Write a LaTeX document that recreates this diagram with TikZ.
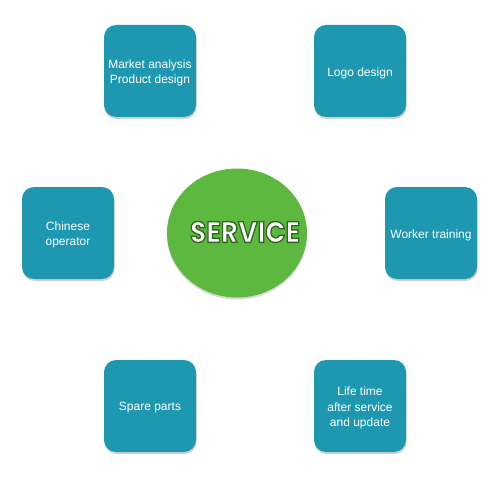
\documentclass[tikz,border=0pt]{standalone}
\usepackage{fontspec}
\setmainfont{Liberation Sans}
\newfontfamily\servicefont{Poppins}
\usetikzlibrary{shadows,shapes.geometric}
\definecolor{tealbox}{HTML}{1E97B0}
\definecolor{greencirc}{HTML}{5DB83F}
\begin{document}
\begin{tikzpicture}[x=1pt,y=-1pt,
  tile/.style={rectangle, rounded corners=12pt, fill=tealbox, minimum width=92pt, minimum height=92pt,
    drop shadow={shadow xshift=0.5pt, shadow yshift=-2pt, opacity=0.3, fill=black!60}},
  tiletext/.style={text=white, align=center, font=\fontsize{12}{15.5}\selectfont, yshift=-2pt},
  hub/.style={ellipse, fill=greencirc, minimum width=140pt, minimum height=129pt,
    drop shadow={shadow xshift=0pt, shadow yshift=-2pt, opacity=0.25, fill=black!60}},
  svctxt/.style={font=\servicefont\bfseries\fontsize{28}{28}\selectfont, inner sep=0pt}]
\useasboundingbox (0,0) rectangle (500,500);
\fill[white] (0,0) rectangle (500,500);
\node[tile] (ma) at (150,71) {};
\node[tiletext] (ma-t) at (ma.center) {Market analysis\\Product design};
\node[tile] (logo) at (360,71) {};
\node[tiletext] (logo-t) at (logo.center) {Logo design};
\node[tile] (co) at (68,233) {};
\node[tiletext] (co-t) at (co.center) {Chinese\\operator};
\node[tile] (wt) at (431,233) {};
\node[tiletext] (wt-t) at (wt.center) {Worker training};
\node[tile] (sp) at (150,406) {};
\node[tiletext] (sp-t) at (sp.center) {Spare parts};
\node[tile] (lt) at (360,406) {};
\node[tiletext] (lt-t) at (lt.center) {Life time\\after service\\and update};
\node[hub] (svc) at (237,233) {};
\node[svctxt, text=white] (svct) at ([shift={(8,-1)}]svc.center) {\scalebox{0.95}[1.05]{\special{pdf:literal q 2 Tr 1.3 w 0.18 0.40 0.12 RG}SERVICE\special{pdf:literal Q}}};
\end{tikzpicture}
\end{document}
